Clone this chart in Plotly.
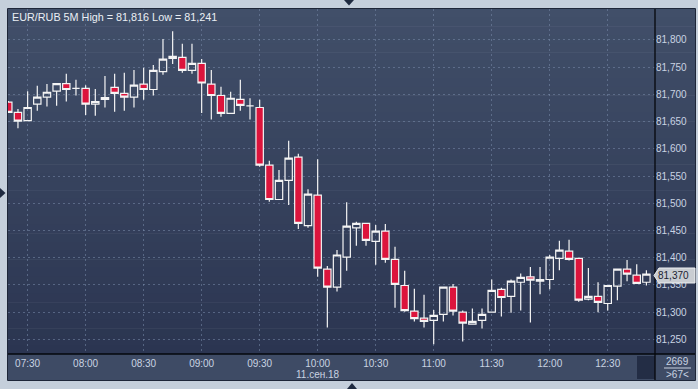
import plotly.graph_objects as go

# ---------------- data ----------------
times = ["07:20", "07:25", "07:30", "07:35", "07:40", "07:45", "07:50", "07:55",
         "08:00", "08:05", "08:10", "08:15", "08:20", "08:25", "08:30", "08:35",
         "08:40", "08:45", "08:50", "08:55", "09:00", "09:05", "09:10", "09:15",
         "09:20", "09:25", "09:30", "09:35", "09:40", "09:45", "09:50", "09:55",
         "10:00", "10:05", "10:10", "10:15", "10:20", "10:25", "10:30", "10:35",
         "10:40", "10:45", "10:50", "10:55", "11:00", "11:05", "11:10", "11:15",
         "11:20", "11:25", "11:30", "11:35", "11:40", "11:45", "11:50", "11:55",
         "12:00", "12:05", "12:10", "12:15", "12:20", "12:25", "12:30", "12:35",
         "12:40", "12:45", "12:50"]
date = "2018-09-11"

open_ = [81.686, 81.667, 81.652, 81.682, 81.695, 81.706, 81.720, 81.711,
         81.711, 81.682, 81.691, 81.713, 81.702, 81.695, 81.719, 81.709,
         81.742, 81.766, 81.768, 81.744, 81.757, 81.719, 81.698, 81.665,
         81.691, 81.679, 81.676, 81.570, 81.507, 81.542, 81.585, 81.459,
         81.515, 81.379, 81.346, 81.401, 81.455, 81.463, 81.430, 81.449,
         81.397, 81.349, 81.302, 81.289, 81.285, 81.296, 81.346, 81.300,
         81.278, 81.285, 81.300, 81.342, 81.329, 81.355, 81.365, 81.357,
         81.360, 81.399, 81.412, 81.399, 81.324, 81.329, 81.316, 81.348,
         81.379, 81.368, 81.355]
high = [81.688, 81.673, 81.706, 81.716, 81.719, 81.720, 81.738, 81.727,
        81.717, 81.710, 81.734, 81.738, 81.740, 81.745, 81.749, 81.754,
        81.802, 81.816, 81.793, 81.793, 81.765, 81.745, 81.714, 81.705,
        81.727, 81.693, 81.690, 81.578, 81.561, 81.615, 81.591, 81.526,
        81.581, 81.385, 81.414, 81.502, 81.466, 81.463, 81.460, 81.462,
        81.420, 81.376, 81.343, 81.332, 81.304, 81.346, 81.352, 81.303,
        81.307, 81.307, 81.360, 81.345, 81.360, 81.371, 81.383, 81.383,
        81.405, 81.431, 81.433, 81.399, 81.381, 81.355, 81.349, 81.379,
        81.396, 81.388, 81.377]
low = [81.667, 81.638, 81.652, 81.670, 81.678, 81.679, 81.687, 81.698,
       81.662, 81.661, 81.676, 81.668, 81.670, 81.676, 81.690, 81.698,
       81.736, 81.756, 81.740, 81.738, 81.666, 81.654, 81.659, 81.665,
       81.670, 81.654, 81.567, 81.503, 81.507, 81.497, 81.453, 81.455,
       81.365, 81.272, 81.338, 81.376, 81.422, 81.422, 81.387, 81.391,
       81.308, 81.301, 81.283, 81.272, 81.241, 81.283, 81.294, 81.246,
       81.278, 81.270, 81.300, 81.292, 81.299, 81.303, 81.281, 81.333,
       81.342, 81.377, 81.395, 81.319, 81.322, 81.300, 81.303, 81.322,
       81.357, 81.352, 81.349]
close = [81.667, 81.651, 81.676, 81.695, 81.704, 81.720, 81.709, 81.711,
         81.682, 81.687, 81.694, 81.702, 81.695, 81.717, 81.709, 81.744,
         81.765, 81.770, 81.744, 81.757, 81.721, 81.698, 81.665, 81.693,
         81.680, 81.679, 81.570, 81.507, 81.542, 81.583, 81.463, 81.517,
         81.381, 81.346, 81.405, 81.458, 81.463, 81.432, 81.449, 81.397,
         81.351, 81.303, 81.288, 81.283, 81.294, 81.346, 81.302, 81.280,
         81.283, 81.296, 81.340, 81.327, 81.357, 81.364, 81.359, 81.360,
         81.401, 81.414, 81.397, 81.322, 81.329, 81.318, 81.349, 81.379,
         81.370, 81.353, 81.370]

price_ticks = [81.25, 81.30, 81.35, 81.40, 81.45, 81.50, 81.55, 81.60,
               81.65, 81.70, 81.75, 81.80]

title_text = "EUR/RUB 5M High = 81,816 Low = 81,241"
date_label = "11.сен.18"
last_price_label = "81,370"
count_label = "2669"
bars_label = ">67<"

# ---------------- geometry helpers ----------------
W, H = 698, 389


def px(x):
    return x / W


def py(y):
    return 1 - y / H


x = [f"{date} {t}" for t in times]

FONT = "Liberation Sans, Arial, sans-serif"
LBL = "#c9d3e2"
FS = 10

fig = go.Figure()
fig.add_trace(go.Candlestick(
    x=x, open=open_, high=high, low=low, close=close,
    increasing=dict(line=dict(color="#f4f4f4", width=1.2), fillcolor="rgba(0,0,0,0)"),
    decreasing=dict(line=dict(color="#f4f4f4", width=1.2), fillcolor="#dc143c"),
    whiskerwidth=0, showlegend=False, hoverinfo="skip",
))

shapes = []
# background gradient (plot + right axis panel)
top_c = (65, 79, 105)
bot_c = (43, 53, 81)
y0, y1 = 9, 354
N = 40
for i in range(N):
    t = (i + 0.5) / N
    c = tuple(round(top_c[j] + (bot_c[j] - top_c[j]) * t) for j in range(3))
    ya = y0 + (y1 - y0) * i / N
    yb = y0 + (y1 - y0) * (i + 1) / N + 0.6
    shapes.append(dict(type="rect", xref="paper", yref="paper", layer="below",
                       x0=px(8), x1=px(695), y0=py(min(yb, y1)), y1=py(ya),
                       fillcolor="rgb(%d,%d,%d)" % c, line=dict(width=0)))
# bottom axis bar
shapes.append(dict(type="rect", xref="paper", yref="paper", layer="below",
                   x0=px(8), x1=px(695), y0=py(380), y1=py(354),
                   fillcolor="#3e4b65", line=dict(width=0)))
# dark box in axis bar
shapes.append(dict(type="rect", xref="paper", yref="paper", layer="above",
                   x0=px(637), x1=px(655), y0=py(379), y1=py(356),
                   fillcolor="#232d45", line=dict(width=0)))
# panel border
shapes.append(dict(type="rect", xref="paper", yref="paper", layer="above",
                   x0=px(7.5), x1=px(695.5), y0=py(380.5), y1=py(8.5),
                   fillcolor="rgba(0,0,0,0)", line=dict(width=1, color="#1e2638")))
# separators
shapes.append(dict(type="line", xref="paper", yref="paper", layer="above",
                   x0=px(8), x1=px(695), y0=py(354), y1=py(354),
                   line=dict(width=1.3, color="#05070c")))
shapes.append(dict(type="line", xref="paper", yref="paper", layer="above",
                   x0=px(655), x1=px(655), y0=py(380), y1=py(9),
                   line=dict(width=1.3, color="#05070c")))
# price tag
shapes.append(dict(type="path", xref="paper", yref="paper", layer="above",
                   path="M %f,%f L %f,%f L %f,%f L %f,%f L %f,%f Z" % (
                       px(654), py(275.5), px(659), py(268), px(695), py(268),
                       px(695), py(283), px(659), py(283)),
                   fillcolor="#c9cdd2", line=dict(width=1, color="#eef0f2")))
# underline of count
shapes.append(dict(type="line", xref="paper", yref="paper", layer="above",
                   x0=px(664), x1=px(691), y0=py(368), y1=py(368),
                   line=dict(width=1, color=LBL)))
# triangles
for pth in [
    (px(344), py(0), px(354), py(0), px(349), py(5.5)),
    (px(0), py(188), px(0), py(198), px(5.5), py(193)),
    (px(347), py(389), px(357), py(389), px(352), py(383)),
]:
    shapes.append(dict(type="path", xref="paper", yref="paper", layer="above",
                       path="M %f,%f L %f,%f L %f,%f Z" % pth,
                       fillcolor="#1f2a40", line=dict(width=0)))

annotations = [
    dict(text=title_text, x=px(10), y=py(17), xref="paper", yref="paper",
         xanchor="left", yanchor="middle", showarrow=False,
         font=dict(family=FONT, size=10.8, color="#eaeef4")),
    dict(text=date_label, x=px(318), y=py(374), xref="paper", yref="paper",
         xanchor="center", yanchor="middle", showarrow=False,
         font=dict(family=FONT, size=FS, color=LBL)),
    dict(text=last_price_label, x=px(673), y=py(275.5), xref="paper", yref="paper",
         xanchor="center", yanchor="middle", showarrow=False,
         font=dict(family=FONT, size=FS, color="#1b2230")),
    dict(text=count_label, x=px(677), y=py(361.5), xref="paper", yref="paper",
         xanchor="center", yanchor="middle", showarrow=False,
         font=dict(family=FONT, size=FS, color=LBL)),
    dict(text=bars_label, x=px(677), y=py(374), xref="paper", yref="paper",
         xanchor="center", yanchor="middle", showarrow=False,
         font=dict(family=FONT, size=FS, color=LBL)),
]

GRID = "rgba(120,138,170,0.55)"
fig.update_layout(
    width=W, height=H,
    margin=dict(l=0, r=0, t=0, b=0),
    paper_bgcolor="#c5cfdb",
    plot_bgcolor="rgba(0,0,0,0)",
    separators=",.",
    boxgap=0.24,
    boxgroupgap=0,
    shapes=shapes,
    annotations=annotations,
    xaxis=dict(
        domain=[px(8), px(655)],
        type="date",
        range=[f"{date} 07:19:51", f"{date} 12:54:27"],
        rangeslider=dict(visible=False),
        tick0=f"{date} 07:30", dtick=1800000, tickformat="%H:%M",
        showgrid=True, gridcolor=GRID, gridwidth=1, griddash="2px,3px",
        zeroline=False, showline=False, ticks="",
        tickfont=dict(family=FONT, size=FS, color=LBL),
        ticklabelstandoff=2,
        automargin=False,
    ),
    yaxis=dict(
        domain=[py(354), py(9)],
        side="right",
        range=[81.2232, 81.8569],
        tickmode="array", tickvals=price_ticks,
        ticktext=[f"{v:.3f}".replace(".", ",") for v in price_ticks],
        showgrid=True, gridcolor=GRID, gridwidth=1, griddash="2px,3px",
        zeroline=False, showline=False, ticks="",
        tickfont=dict(family=FONT, size=FS, color=LBL),
        automargin=False,
    ),
    hovermode=False,
)

fig.write_html("out.html", config={"displayModeBar": False},
               post_script="document.body.style.margin='0';")
